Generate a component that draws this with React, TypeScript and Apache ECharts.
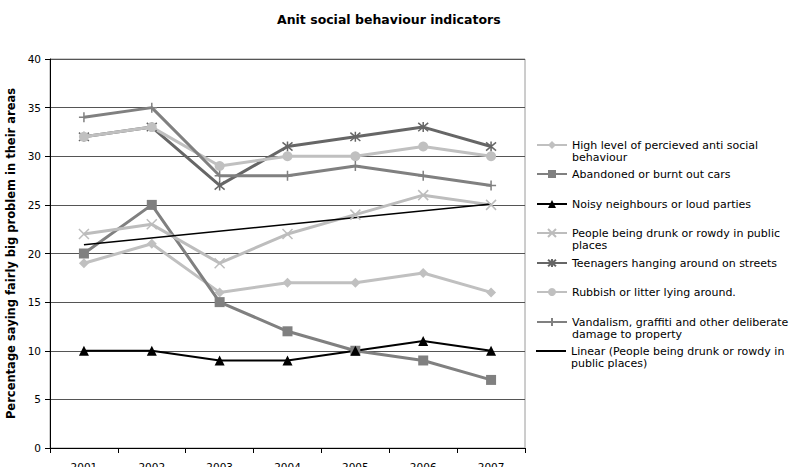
import React, { useEffect, useRef } from "react";
import * as echarts from "echarts";

const years = ["2001", "2002", "2003", "2004", "2005", "2006", "2007"];
const highLevel = [19, 21, 16, 17, 17, 18, 16];
const abandonedCars = [20, 25, 15, 12, 10, 9, 7];
const noisyNeighbours = [10, 10, 9, 9, 10, 11, 10];
const drunkRowdy = [22, 23, 19, 22, 24, 26, 25];
const teenagers = [32, 33, 27, 31, 32, 33, 31];
const rubbish = [32, 33, 29, 30, 30, 31, 30];
const vandalism = [34, 35, 28, 28, 29, 28, 27];
const linearTrend = [20.9, null, null, null, null, null, 25.1];

const names = [
  "High level of percieved anti social\nbehaviour",
  "Abandoned or burnt out cars",
  "Noisy neighbours or loud parties",
  "People being drunk or rowdy in public\nplaces",
  "Teenagers hanging around on streets",
  "Rubbish or litter lying around.",
  "Vandalism, graffiti and other deliberate\ndamage to property",
  "Linear (People being drunk or rowdy in\npublic places)",
];
const legendCenters = [145, 174, 204, 233, 263, 292, 322, 351];

const FONT = "DejaVu Sans";
const LH = 12;

export default function App() {
  const ref = useRef<HTMLDivElement>(null);
  useEffect(() => {
    if (!ref.current) return;
    const chart = echarts.init(ref.current, null, { renderer: "svg" });
    const xPath = "path://M0,0L10,10M10,0L0,10";
    const starPath = "path://M0,0L10,10M10,0L0,10M5,-1L5,11";
    const plusPath = "path://M5,0L5,10M0,5L10,5";
    const mk = (
      i: number,
      data: (number | null)[],
      color: string,
      symbol: string,
      size: number,
      width: number,
      stroke: boolean
    ) => ({
      name: names[i],
      type: "line",
      data,
      symbol,
      symbolSize: size,
      lineStyle: { color, width },
      itemStyle: stroke
        ? { color: "rgba(0,0,0,0)", borderColor: color, borderWidth: 1.5 }
        : { color, borderColor: color, borderWidth: 0 },
      emphasis: { disabled: true },
    });
    const series: any[] = [
      mk(0, highLevel, "#c0c0c0", "diamond", 10, 3, false),
      mk(1, abandonedCars, "#808080", "rect", 10, 3, false),
      mk(2, noisyNeighbours, "#000000", "triangle", 10, 2, false),
      mk(3, drunkRowdy, "#bdbdbd", xPath, 10, 3, true),
      mk(4, teenagers, "#666666", starPath, 10, 3, true),
      mk(5, rubbish, "#c0c0c0", "circle", 10, 3, false),
      mk(6, vandalism, "#808080", plusPath, 10, 3, true),
      {
        name: names[7],
        type: "line",
        data: linearTrend,
        connectNulls: true,
        symbol: "none",
        showSymbol: false,
        lineStyle: { color: "#000000", width: 1.5 },
        itemStyle: { color: "#000000" },
        emphasis: { disabled: true },
      },
    ];
    const legends = names.map((n, i) => {
      const twoLine = n.indexOf("\n") >= 0;
      const item: any = { name: n };
      if (i === 7) {
        item.icon = "path://M0,0M30,10M0,4L30,4L30,6L0,6Z";
        item.itemStyle = { color: "#000", borderWidth: 0 };
      }
      return {
        data: [item],
        left: 536,
        top: twoLine ? legendCenters[i] - 1.5 * LH : legendCenters[i] - 6,
        orient: "vertical",
        itemWidth: 30,
        itemHeight: 10,
        selectedMode: false,
        padding: 0,
        formatter: twoLine ? (nm: string) => "\n" + nm : undefined,
        textStyle: {
          fontFamily: FONT,
          fontSize: 11,
          color: "#000",
          lineHeight: LH,
        },
      };
    });
    chart.setOption({
      animation: false,
      backgroundColor: "#fff",
      title: {
        text: "Anit social behaviour indicators",
        left: 277,
        top: 13,
        padding: 0,
        textStyle: { fontFamily: FONT, fontSize: 12.5, fontWeight: "bold", color: "#000" },
      },
      legend: legends,
      grid: {
        left: 50,
        right: 264,
        top: 59,
        bottom: 19,
        show: true,
        borderColor: "#9a9a9a",
        borderWidth: 1,
        containLabel: false,
        outerBoundsMode: "none",
      },
      xAxis: {
        type: "category",
        data: years,
        boundaryGap: true,
        axisLine: { lineStyle: { color: "#000", width: 1 } },
        axisTick: { show: true, inside: false, length: 5, lineStyle: { color: "#000" } },
        axisLabel: { fontFamily: FONT, fontSize: 10.5, color: "#000", margin: 13 },
        splitLine: { show: false },
      },
      yAxis: {
        type: "value",
        min: 0,
        max: 40,
        interval: 5,
        name: "Percentage saying fairly big problem in their areas",
        nameLocation: "middle",
        nameGap: 33,
        nameTextStyle: { fontFamily: FONT, fontSize: 11.5, fontWeight: "bold", color: "#000" },
        axisLine: { show: true, lineStyle: { color: "#000", width: 1 } },
        axisTick: { show: true, inside: false, length: 5, lineStyle: { color: "#000" } },
        axisLabel: { fontFamily: FONT, fontSize: 10.5, color: "#000", margin: 9 },
        splitLine: { show: true, lineStyle: { color: "#555", width: 1 } },
      },
      series,
    });
    return () => chart.dispose();
  }, []);
  return (
    <div
      ref={ref}
      style={{ position: "fixed", left: 0, top: 0, width: 789, height: 467 }}
    />
  );
}
